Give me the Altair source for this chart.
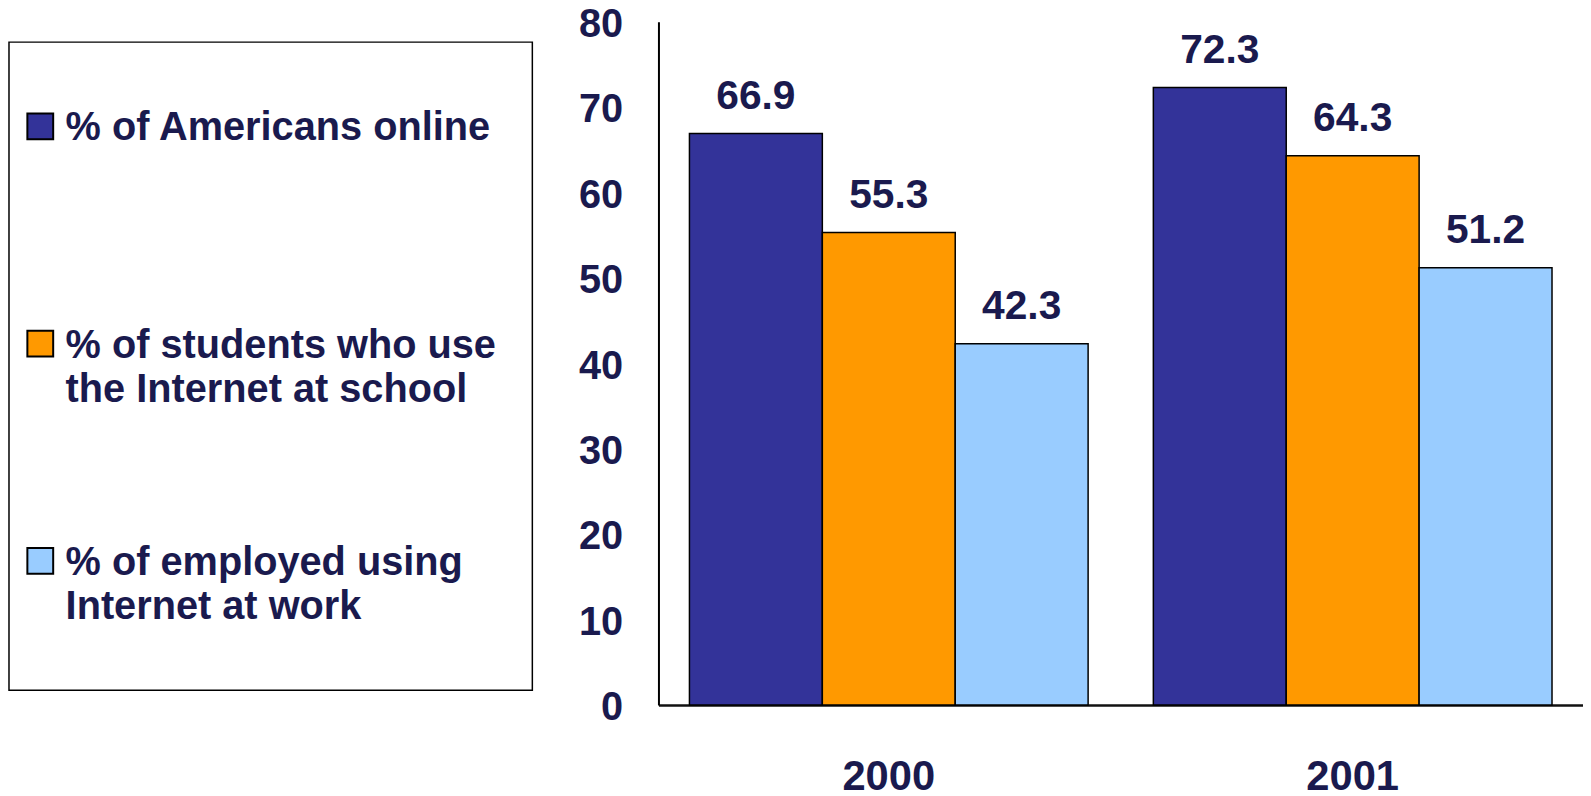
import altair as alt
import pandas as pd

# ---- data ----
years = ["2000", "2001"]
series = [
    "% of Americans online",
    "% of students who use the Internet at school",
    "% of employed using Internet at work",
]
legend_labels = [
    "% of Americans online",
    "% of students who use\nthe Internet at school",
    "% of employed using\nInternet at work",
]
values_2000 = [66.9, 55.3, 42.3]
values_2001 = [72.3, 64.3, 51.2]
colors = ["#333399", "#FF9900", "#99CCFF"]
y_ticks = [0, 10, 20, 30, 40, 50, 60, 70, 80]

NAVY = "#1a1a4e"
FONT = "Liberation Sans"

rows = []
for yr, vals in zip(years, [values_2000, values_2001]):
    for s, v in zip(series, vals):
        rows.append({"year": yr, "series": s, "value": v})
df = pd.DataFrame(rows)
leg = pd.DataFrame({"series": series, "label": legend_labels})

color = alt.Color("series:N", scale=alt.Scale(domain=series, range=colors), legend=None)

base = alt.Chart(df).encode(
    x=alt.X(
        "year:N",
        sort=years,
        scale=alt.Scale(paddingInner=0.1406, paddingOuter=0.0668),
        axis=alt.Axis(
            title=None, labelAngle=0, ticks=False, tickSize=0, labelPadding=52,
            labelFontSize=42, labelFontWeight="bold", labelColor=NAVY, labelFont=FONT,
            domainColor="#111111", domainWidth=2.5,
        ),
    ),
    xOffset=alt.XOffset("series:N", sort=series,
                        scale=alt.Scale(domain=series, paddingInner=0, paddingOuter=0)),
    y=alt.Y(
        "value:Q",
        scale=alt.Scale(domain=[0, 80], nice=False),
        axis=alt.Axis(
            values=y_ticks, title=None, grid=False, ticks=False, tickSize=0, labelPadding=36,
            labelOffset=3,
            labelFontSize=40, labelFontWeight="bold", labelColor=NAVY, labelFont=FONT,
            domainColor="#000000", domainWidth=2,
        ),
    ),
)

bars = base.mark_bar(stroke="black", strokeWidth=1.5).encode(color=color)
value_labels = base.mark_text(
    baseline="alphabetic", dy=-25, fontSize=41, fontWeight="bold", font=FONT, color=NAVY
).encode(text=alt.Text("value:Q", format=".1f"))

bar_chart = alt.layer(bars, value_labels).properties(width=931, height=688)

# ---- hand-made legend panel ----
leg_base = alt.Chart(leg).encode(
    y=alt.Y("series:N", sort=series,
            scale=alt.Scale(type="point", domain=series, range=[105.5, 543], padding=0),
            axis=None)
)
box = alt.Chart(pd.DataFrame({"k": [0]})).mark_rect(
    fillOpacity=0, stroke="black", strokeWidth=1.5
).encode(x=alt.value(0), x2=alt.value(527), y=alt.value(20.6), y2=alt.value(673.3))
symbols = leg_base.mark_square(
    size=676, stroke="black", strokeWidth=2, opacity=1, filled=True
).encode(x=alt.value(31.5), color=color)
texts = leg_base.mark_text(
    align="left", baseline="alphabetic", dy=14, lineBreak="\n", lineHeight=45,
    fontSize=40, fontWeight="bold", font=FONT, color=NAVY
).encode(x=alt.value(57), text="label:N")

legend_chart = alt.layer(box, symbols, texts).properties(width=527, height=688)

chart = (
    alt.hconcat(legend_chart, bar_chart, spacing=127, bounds="flush")
    .properties(padding={"left": 0, "top": -6, "right": 0, "bottom": 0})
    .configure(background="white")
    .configure_view(stroke=None, strokeWidth=0)
)

chart.save("out.html", embed_options={"renderer": "svg", "actions": False})
